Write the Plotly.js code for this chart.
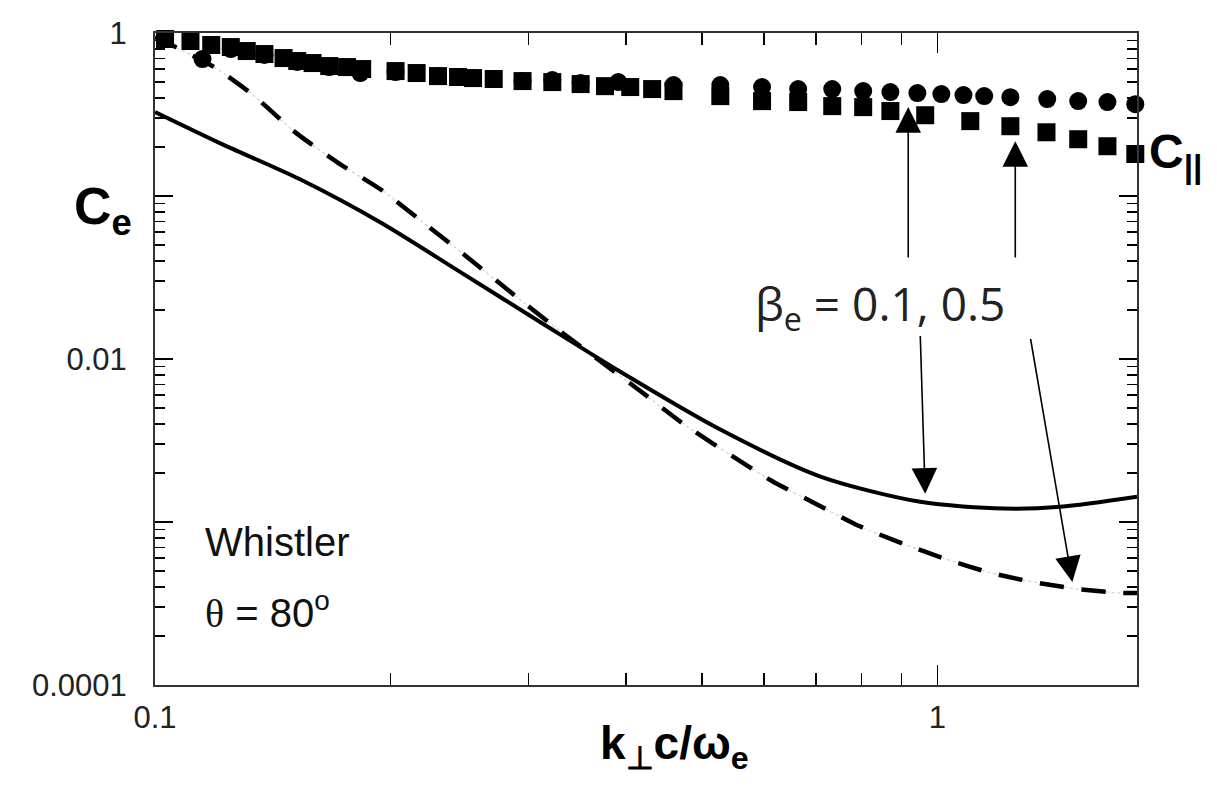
<!DOCTYPE html>
<html>
<head>
<meta charset="utf-8">
<script src="https://cdn.plot.ly/plotly-3.0.1.min.js"></script>
<style>
  html, body { margin: 0; padding: 0; background: #fff; }
  #plot { width: 1217px; height: 794px; }
</style>
</head>
<body>
<div id="plot"></div>
<script>
// Electron compressibility C_e versus k_perp c / omega_e (whistler, theta = 80 deg)

// beta_e = 0.1 (solid curve)
const solidX = [0.100, 0.121, 0.153, 0.194, 0.246, 0.311, 0.393, 0.528, 0.709, 0.951, 1.215, 1.436, 1.80];
const solidY = [0.327, 0.211, 0.127, 0.0690, 0.0340, 0.0168, 0.00838, 0.00369, 0.00190, 0.00133, 0.00121, 0.00124, 0.00143];

// beta_e = 0.5 (dashed curve)
const dashX = [0.100, 0.119, 0.133, 0.151, 0.171, 0.195, 0.220, 0.251, 0.284, 0.325, 0.418, 0.475, 0.614, 0.698, 0.793, 0.905, 1.024, 1.169, 1.323, 1.505, 1.714, 1.80];
const dashY = [0.945, 0.618, 0.422, 0.2465, 0.161, 0.1085, 0.0690, 0.0420, 0.0260, 0.0156, 0.00632, 0.00396, 0.00179, 0.00130, 0.000948, 0.000735, 0.000594, 0.000488, 0.000429, 0.000389, 0.000367, 0.000367];

// C_parallel, beta_e = 0.1 (circles)
const circX = [0.103, 0.115, 0.125, 0.138, 0.152, 0.167, 0.183, 0.203, 0.230, 0.255, 0.295, 0.322, 0.350, 0.391, 0.460, 0.528, 0.597, 0.664, 0.734, 0.804, 0.871, 0.943, 1.012, 1.080, 1.148, 1.240, 1.382, 1.514, 1.650, 1.791];
const circY = [0.919, 0.692, 0.797, 0.733, 0.664, 0.618, 0.568, 0.576, 0.544, 0.529, 0.507, 0.514, 0.493, 0.500, 0.479, 0.479, 0.466, 0.453, 0.453, 0.440, 0.434, 0.428, 0.422, 0.416, 0.410, 0.404, 0.393, 0.382, 0.377, 0.366];

// C_parallel, beta_e = 0.5 (squares)
const sqX = [0.103, 0.111, 0.118, 0.125, 0.131, 0.138, 0.146, 0.152, 0.159, 0.167, 0.176, 0.184, 0.203, 0.216, 0.230, 0.244, 0.255, 0.271, 0.295, 0.322, 0.350, 0.376, 0.405, 0.432, 0.460, 0.528, 0.597, 0.664, 0.734, 0.804, 0.871, 0.965, 1.102, 1.240, 1.379, 1.514, 1.650, 1.791];
const sqY = [0.919, 0.893, 0.844, 0.820, 0.775, 0.743, 0.702, 0.673, 0.654, 0.627, 0.618, 0.601, 0.584, 0.568, 0.544, 0.537, 0.529, 0.522, 0.507, 0.500, 0.486, 0.472, 0.466, 0.453, 0.440, 0.410, 0.382, 0.377, 0.356, 0.351, 0.332, 0.313, 0.288, 0.268, 0.246, 0.223, 0.202, 0.181];

// axis ticks
const xTickVals = [0.1, 1];
const xTickText = ['0.1', '1'];
const yTickVals = [1, 0.01, 0.0001];
const yTickText = ['1', '0.01', '0.0001'];
const yDecadeVals = [0.1, 0.001];

// pointer arrows: [tailX, tailY, tipX, tipY]
const arrows = [
  [0.918, 0.0410, 0.918, 0.351],
  [1.258, 0.0410, 1.258, 0.217],
  [0.951, 0.01414, 0.965, 0.00149],
  [1.315, 0.01355, 1.488, 0.000429]
];

const xMinor = [];
for (let k = 2; k <= 9; k++) xMinor.push(k / 10);
const yMinor = [];
for (let d = -4; d < 0; d++) for (let k = 2; k <= 9; k++) yMinor.push(k * Math.pow(10, d));

// plot frame in pixels
const L = 155, R = 1137, T = 33, B = 685;
const W = R - L, H = B - T;
const px = v => (v - L) / W;
const py = v => (B - v) / H;

const SANS = 'Liberation Sans, Arial, sans-serif';

const traces = [
  // faint guide joining the dashes
  { x: dashX, y: dashY, mode: 'lines', hoverinfo: 'skip',
    line: { color: '#cfcfcf', width: 1.2, dash: 'dot', shape: 'spline', smoothing: 0.6 } },
  { x: dashX, y: dashY, mode: 'lines',
    line: { color: '#000', width: 4.5, dash: '24px,18px', shape: 'spline', smoothing: 0.6 } },
  { x: solidX, y: solidY, mode: 'lines',
    line: { color: '#000', width: 4, shape: 'spline', smoothing: 0.8 } },
  { x: circX, y: circY, mode: 'markers', cliponaxis: false,
    marker: { symbol: 'circle', size: 18, color: '#000' } },
  { x: sqX, y: sqY, mode: 'markers', cliponaxis: false,
    marker: { symbol: 'square', size: 18, color: '#000' } },
  // carries the unlabelled decade ticks
  { x: [], y: [], yaxis: 'y2', mode: 'markers', hoverinfo: 'skip' }
];

const annotations = [
  { xref: 'paper', yref: 'paper', x: px(72), y: py(210), xanchor: 'left', yanchor: 'middle',
    text: '<b>C<sub>e</sub></b>', showarrow: false, font: { family: SANS, size: 52, color: '#000' } },
  { xref: 'paper', yref: 'paper', x: px(598), y: py(746), xanchor: 'left', yanchor: 'middle',
    text: '<b>k<sub>⊥</sub>c/ω<sub>e</sub></b>', showarrow: false, font: { family: SANS, size: 46, color: '#000' } },
  { xref: 'paper', yref: 'paper', x: px(1147), y: py(155), xanchor: 'left', yanchor: 'middle',
    text: '<b>C<sub>||</sub></b>', showarrow: false, font: { family: SANS, size: 48, color: '#000' } },
  { xref: 'paper', yref: 'paper', x: px(203), y: py(542), xanchor: 'left', yanchor: 'middle',
    text: 'Whistler', showarrow: false, font: { family: SANS, size: 40, color: '#111' } },
  { xref: 'paper', yref: 'paper', x: px(203), y: py(610), xanchor: 'left', yanchor: 'middle',
    text: '<span style="font-family:Liberation Serif">θ</span> = 80<sup>o</sup>', showarrow: false,
    font: { family: SANS, size: 40, color: '#111' } },
  { xref: 'paper', yref: 'paper', x: px(753), y: py(306), xanchor: 'left', yanchor: 'middle',
    text: 'β<sub>e</sub> = 0.1, 0.5', showarrow: false, font: { family: 'Open Sans, sans-serif', size: 46, color: '#222' } }
];

arrows.forEach(a => {
  annotations.push({
    xref: 'x', yref: 'y', axref: 'x', ayref: 'y',
    ax: Math.log10(a[0]), ay: Math.log10(a[1]),
    x: Math.log10(a[2]), y: Math.log10(a[3]),
    text: '', showarrow: true, arrowhead: 2, arrowsize: 3.2, arrowwidth: 1.6,
    arrowcolor: '#000', standoff: 0, startstandoff: 0
  });
});

const axisCommon = {
  type: 'log', showgrid: false, zeroline: false,
  showline: true, linecolor: '#333', linewidth: 2, mirror: 'ticks',
  ticks: 'inside', tickcolor: '#000', tickwidth: 1.5,
  tickmode: 'array'
};

const layout = {
  width: 1217, height: 794,
  margin: { l: L, r: 1217 - R, t: T, b: 794 - B, pad: 0 },
  paper_bgcolor: '#fff', plot_bgcolor: '#fff',
  showlegend: false,
  xaxis: Object.assign({}, axisCommon, {
    range: [-1, Math.log10(1.8)],
    tickvals: xTickVals, ticktext: xTickText, ticklen: 20,
    ticklabelstandoff: 4,
    tickfont: { family: SANS, size: 31, color: '#222' },
    minor: { tickmode: 'array', tickvals: xMinor, ticks: 'inside', ticklen: 12, tickwidth: 1.5, tickcolor: '#000', showgrid: false }
  }),
  yaxis: Object.assign({}, axisCommon, {
    range: [-4, 0],
    tickvals: yTickVals, ticktext: yTickText, ticklen: 18,
    ticklabelstandoff: 20,
    tickfont: { family: SANS, size: 31, color: '#222' },
    minor: { tickmode: 'array', tickvals: yMinor, ticks: 'inside', ticklen: 10, tickwidth: 1.5, tickcolor: '#000', showgrid: false }
  }),
  yaxis2: {
    type: 'log', overlaying: 'y', side: 'left', range: [-4, 0],
    showgrid: false, zeroline: false, showline: false, mirror: 'ticks',
    ticks: 'inside', ticklen: 18, tickwidth: 1.5, tickcolor: '#000',
    tickmode: 'array', tickvals: yDecadeVals, showticklabels: false
  },
  annotations: annotations
};

Plotly.newPlot('plot', traces, layout, { displayModeBar: false, staticPlot: true });
</script>
</body>
</html>
